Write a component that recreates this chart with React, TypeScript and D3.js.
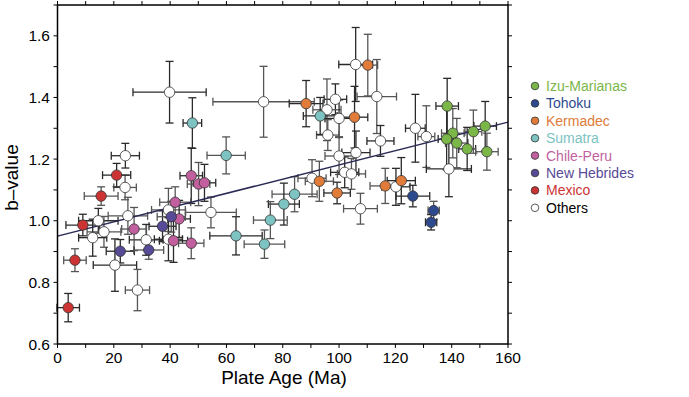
import React from "react";
import * as d3 from "d3";

// [plate age, b-value, age error, b error]
const izuMarianas = [
  [138.4, 1.372, 4, 0.09], [140.4, 1.284, 4, 0.08], [138.2, 1.265, 3, 0.1],
  [141.8, 1.252, 4, 0.08], [145.5, 1.233, 3, 0.07], [147.7, 1.289, 3, 0.07],
  [151.9, 1.307, 4, 0.08], [152.5, 1.224, 4, 0.06],
];
const tohoku = [[126.2, 1.08, 6, 0.035], [133.6, 1.033, 2, 0.03], [132.7, 0.995, 2, 0.025]];
const kermadec = [
  [88.3, 1.38, 6, 0.075], [110.2, 1.505, 3.5, 0.1], [105.5, 1.336, 4.7, 0.1],
  [93.0, 1.128, 5, 0.065], [99.3, 1.09, 4.7, 0.035], [116.4, 1.113, 5.4, 0.057],
  [122.1, 1.13, 5, 0.075],
];
const sumatra = [
  [47.9, 1.317, 3.3, 0.082], [59.9, 1.212, 6.8, 0.06], [93.3, 1.34, 6, 0.06],
  [84.2, 1.086, 8, 0.057], [80.4, 1.054, 5.5, 0.068], [75.6, 1.002, 6, 0.06],
  [63.4, 0.951, 9.3, 0.062], [73.5, 0.924, 7.2, 0.046],
];
const chilePeru = [
  [47.5, 1.146, 4, 0.09], [50.1, 1.119, 4, 0.07], [52.2, 1.123, 4, 0.06],
  [41.8, 1.06, 5.5, 0.05], [43.2, 1.006, 4, 0.06], [27.2, 0.973, 4.4, 0.07],
  [41.2, 0.935, 5, 0.07], [47.5, 0.927, 4.5, 0.05],
];
const newHebrides = [[22.3, 0.901, 5, 0.038], [32.4, 0.905, 5.3, 0.03], [37.3, 0.982, 4.8, 0.05], [40.4, 1.013, 5, 0.05]];
const mexico = [[3.8, 0.718, 4, 0.046], [6.2, 0.872, 4, 0.037], [9.0, 0.986, 6, 0.035], [15.5, 1.08, 6, 0.03], [21.0, 1.148, 5, 0.038]];
const others = [
  [24.1, 1.211, 5, 0.04], [24.0, 1.108, 4, 0.04], [14.5, 1.0, 7, 0.04], [16.5, 0.964, 6, 0.05],
  [12.5, 0.945, 5, 0.06], [25.0, 1.016, 7, 0.06], [31.5, 0.938, 6, 0.05], [39.4, 1.035, 6, 0.07],
  [39.4, 0.94, 5, 0.07], [54.5, 1.027, 9, 0.05], [20.4, 0.856, 7.7, 0.085], [28.4, 0.775, 4.3, 0.067],
  [39.8, 1.417, 13, 0.1], [73.2, 1.386, 18, 0.115], [105.9, 1.507, 6, 0.12], [113.4, 1.403, 7, 0.12],
  [98.7, 1.394, 4, 0.05], [95.7, 1.36, 5, 0.1], [100.0, 1.332, 5, 0.06], [96.0, 1.278, 4, 0.05],
  [114.7, 1.259, 4.8, 0.05], [100.0, 1.21, 5, 0.06], [106.0, 1.221, 5, 0.07], [90.4, 1.138, 5, 0.06],
  [102.0, 1.157, 5, 0.05], [104.4, 1.152, 5, 0.05], [127.1, 1.3, 3.5, 0.11], [131.0, 1.273, 3, 0.1],
  [139.0, 1.168, 8, 0.09], [107.6, 1.039, 6, 0.05], [120.2, 1.11, 5, 0.06],
];

const seriesNames = ["Izu-Marianas", "Tohoku", "Kermadec", "Sumatra", "Chile-Peru", "New Hebrides", "Mexico", "Others"];
const seriesColors = ["#7ab648", "#2e4a8f", "#e07b39", "#7cc3c2", "#c25f9e", "#574a96", "#cc3333", "#ffffff"];
const seriesTextColors = ["#7ab648", "#2e4a8f", "#e07b39", "#7cc3c2", "#c25f9e", "#574a96", "#cc3333", "#000000"];
const seriesData = [izuMarianas, tohoku, kermadec, sumatra, chilePeru, newHebrides, mexico, others];

const xTicks = [0, 20, 40, 60, 80, 100, 120, 140, 160];
const yTicks = [0.6, 0.8, 1.0, 1.2, 1.4, 1.6];
const fitLine = [[0, 0.95], [160, 1.32]];

const font = "'Liberation Sans', Arial, Helvetica, sans-serif";

export default function App() {
  const x = d3.scaleLinear().domain([0, 160]).range([57.5, 508]);
  const y = d3.scaleLinear().domain([0.6, 1.7]).range([344, 5]);
  const minorX = d3.range(0, 161, 10);
  const minorY = d3.range(6, 18).map((d) => d / 10);
  const cap = 4;
  const line = d3.line().x((d) => x(d[0])).y((d) => y(d[1]));

  // others drawn first so coloured points sit on top
  const order = [7, 0, 1, 2, 3, 4, 5, 6];

  return (
    <svg width={689} height={397} style={{ position: "absolute", left: 0, top: 0, background: "#fff" }} fontFamily={font}>
      {/* error bars */}
      <g stroke="#3a3a3a" strokeWidth={1.3} fill="none">
        {order.map((si) =>
          seriesData[si].map((d, i) => {
            const cx = x(d[0]), cy = y(d[1]);
            const x0 = x(d[0] - d[2]), x1 = x(d[0] + d[2]);
            const y0 = y(d[1] - d[3]), y1 = y(d[1] + d[3]);
            return (
              <g key={si + "-" + i} stroke={i % 2 ? "#555" : "#2a2a2a"}>
                <line x1={x0} x2={x1} y1={cy} y2={cy} />
                <line x1={x0} x2={x0} y1={cy - cap} y2={cy + cap} />
                <line x1={x1} x2={x1} y1={cy - cap} y2={cy + cap} />
                <line x1={cx} x2={cx} y1={y0} y2={y1} />
                <line x1={cx - cap} x2={cx + cap} y1={y0} y2={y0} />
                <line x1={cx - cap} x2={cx + cap} y1={y1} y2={y1} />
              </g>
            );
          })
        )}
      </g>
      {/* regression line */}
      <path d={line(fitLine as any) || ""} stroke="#2a2a55" strokeWidth={1.5} fill="none" />
      {/* markers */}
      {order.map((si) =>
        seriesData[si].map((d, i) => (
          <circle key={"m" + si + "-" + i} cx={x(d[0])} cy={y(d[1])} r={5.2} fill={seriesColors[si]} stroke="#333" strokeWidth={0.8} />
        ))
      )}
      {/* frame */}
      <rect x={x(0)} y={y(1.7)} width={x(160) - x(0)} height={y(0.6) - y(1.7)} fill="none" stroke="#000" strokeWidth={1.5} />
      {/* ticks */}
      <g stroke="#000" strokeWidth={1}>
        {minorX.map((t) => (
          <g key={"xt" + t}>
            <line x1={x(t)} x2={x(t)} y1={y(0.6)} y2={y(0.6) + 4} />
            <line x1={x(t)} x2={x(t)} y1={y(1.7)} y2={y(1.7) - 4} />
          </g>
        ))}
        {minorY.map((t) => (
          <g key={"yt" + t}>
            <line x1={x(0)} x2={x(0) - 4} y1={y(t)} y2={y(t)} />
            <line x1={x(160)} x2={x(160) + 4} y1={y(t)} y2={y(t)} />
          </g>
        ))}
      </g>
      {xTicks.map((t) => (
        <text key={"xl" + t} x={x(t)} y={363} textAnchor="middle" fontSize={15.5}>{t}</text>
      ))}
      {yTicks.map((t) => (
        <text key={"yl" + t} x={50} y={y(t) + 5.5} textAnchor="end" fontSize={15.5}>{t.toFixed(1)}</text>
      ))}
      <text x={284} y={384} textAnchor="middle" fontSize={19}>Plate Age (Ma)</text>
      <text transform={`translate(17.5,${y(1.14)}) rotate(-90)`} textAnchor="middle" fontSize={19}>b–value</text>
      {/* legend */}
      {seriesNames.map((n, i) => (
        <g key={n} transform={`translate(535,${86 + i * 17.4})`}>
          <circle r={3.8} fill={seriesColors[i]} stroke="#333" strokeWidth={0.8} />
          <text x={11} y={5} fontSize={14} fill={seriesTextColors[i]}>{n}</text>
        </g>
      ))}
    </svg>
  );
}
